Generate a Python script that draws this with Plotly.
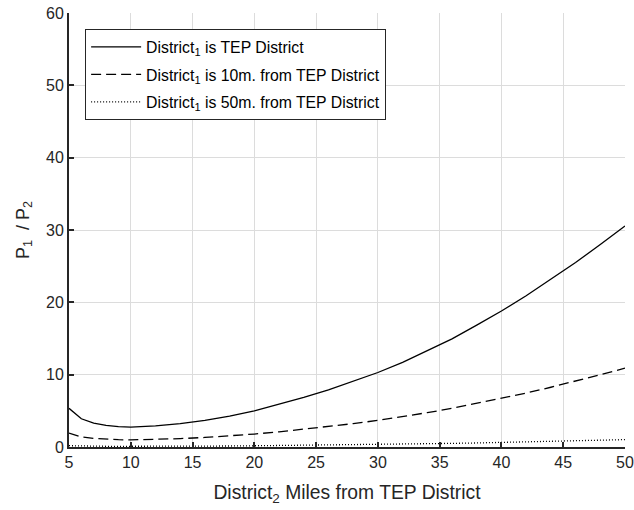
import plotly.graph_objects as go

miles = [5, 6, 7, 8, 9, 10, 12, 14, 16, 18, 20, 22, 24, 26, 28, 30, 32, 34, 36, 38, 40, 42, 44, 46, 48, 50]
tep_district = [5.35, 3.9, 3.3, 3.0, 2.83, 2.75, 2.93, 3.24, 3.69, 4.28, 5.0, 5.9, 6.85, 7.9, 9.05,
                10.3, 11.7, 13.3, 14.95, 16.85, 18.8, 20.9, 23.15, 25.5, 28.0, 30.55]
ten_miles = [1.91, 1.39, 1.18, 1.07, 1.01, 0.98, 1.05, 1.16, 1.32, 1.53, 1.79, 2.1, 2.45, 2.82, 3.23,
             3.68, 4.18, 4.75, 5.34, 6.02, 6.71, 7.46, 8.26, 9.1, 10.0, 10.9]
fifty_miles = [0.18, 0.13, 0.11, 0.1, 0.095, 0.09, 0.1, 0.11, 0.12, 0.14, 0.17, 0.2, 0.23, 0.26, 0.3,
               0.34, 0.39, 0.44, 0.5, 0.56, 0.63, 0.7, 0.77, 0.85, 0.93, 1.02]

series_names = [
    "District<sub>1</sub> is TEP District",
    "District<sub>1</sub> is 10m. from TEP District",
    "District<sub>1</sub> is 50m. from TEP District",
]
x_ticks = [5, 10, 15, 20, 25, 30, 35, 40, 45, 50]
y_ticks = [0, 10, 20, 30, 40, 50, 60]

FONT = "Liberation Sans, Arial, Helvetica, sans-serif"
AX = "#262626"

fig = go.Figure()
dashes = ["solid", "10px,5px", "1px,2px"]
for i, (ys, dsh) in enumerate(zip([tep_district, ten_miles, fifty_miles], dashes)):
    fig.add_trace(go.Scatter(
        x=miles, y=ys, mode="lines", name=series_names[i],
        legendgroup=f"g{i}",
        line=dict(color="black", width=1.3, dash=dsh),
    ))

fig.update_layout(
    width=634, height=510,
    margin=dict(l=69, r=9, t=13, b=63),
    plot_bgcolor="white", paper_bgcolor="white",
    font=dict(family=FONT, color=AX, size=16),
    showlegend=True,
    legend=dict(
        x=0.029, y=0.963, xanchor="left", yanchor="top",
        bgcolor="white", bordercolor=AX, borderwidth=1,
        font=dict(family=FONT, size=15.8, color="black"),
        tracegroupgap=4,
        itemwidth=50,
    ),
    xaxis=dict(
        range=[5, 50], tickvals=x_ticks, ticktext=[str(v) for v in x_ticks],
        showgrid=True, gridcolor="#dcdcdc", gridwidth=1,
        showline=True, linecolor=AX, linewidth=2,
        ticks="inside", ticklen=5, tickwidth=2, tickcolor=AX,
        zeroline=False, tickfont=dict(size=16, color=AX),
        automargin=False, ticklabeloverflow="allow",
        title=dict(text="District<sub>2</sub> Miles from TEP District",
                   font=dict(size=19.3, color=AX)),
    ),
    yaxis=dict(
        range=[0, 60], tickvals=y_ticks, ticktext=[str(v) for v in y_ticks],
        showgrid=True, gridcolor="#dcdcdc", gridwidth=1,
        showline=True, linecolor=AX, linewidth=2,
        ticks="inside", ticklen=5, tickwidth=2, tickcolor=AX,
        zeroline=False, tickfont=dict(size=16, color=AX),
        automargin=False, ticklabeloverflow="allow",
        title=dict(text="P<sub>1</sub>&nbsp; / P<sub>2</sub>",
                   font=dict(size=18, color=AX), standoff=12),
    ),
)

# remove the default 8px page margin so the figure fills the window exactly
fig.write_html("out.html", config={"displayModeBar": False},
               post_script="document.body.style.margin='0';")
